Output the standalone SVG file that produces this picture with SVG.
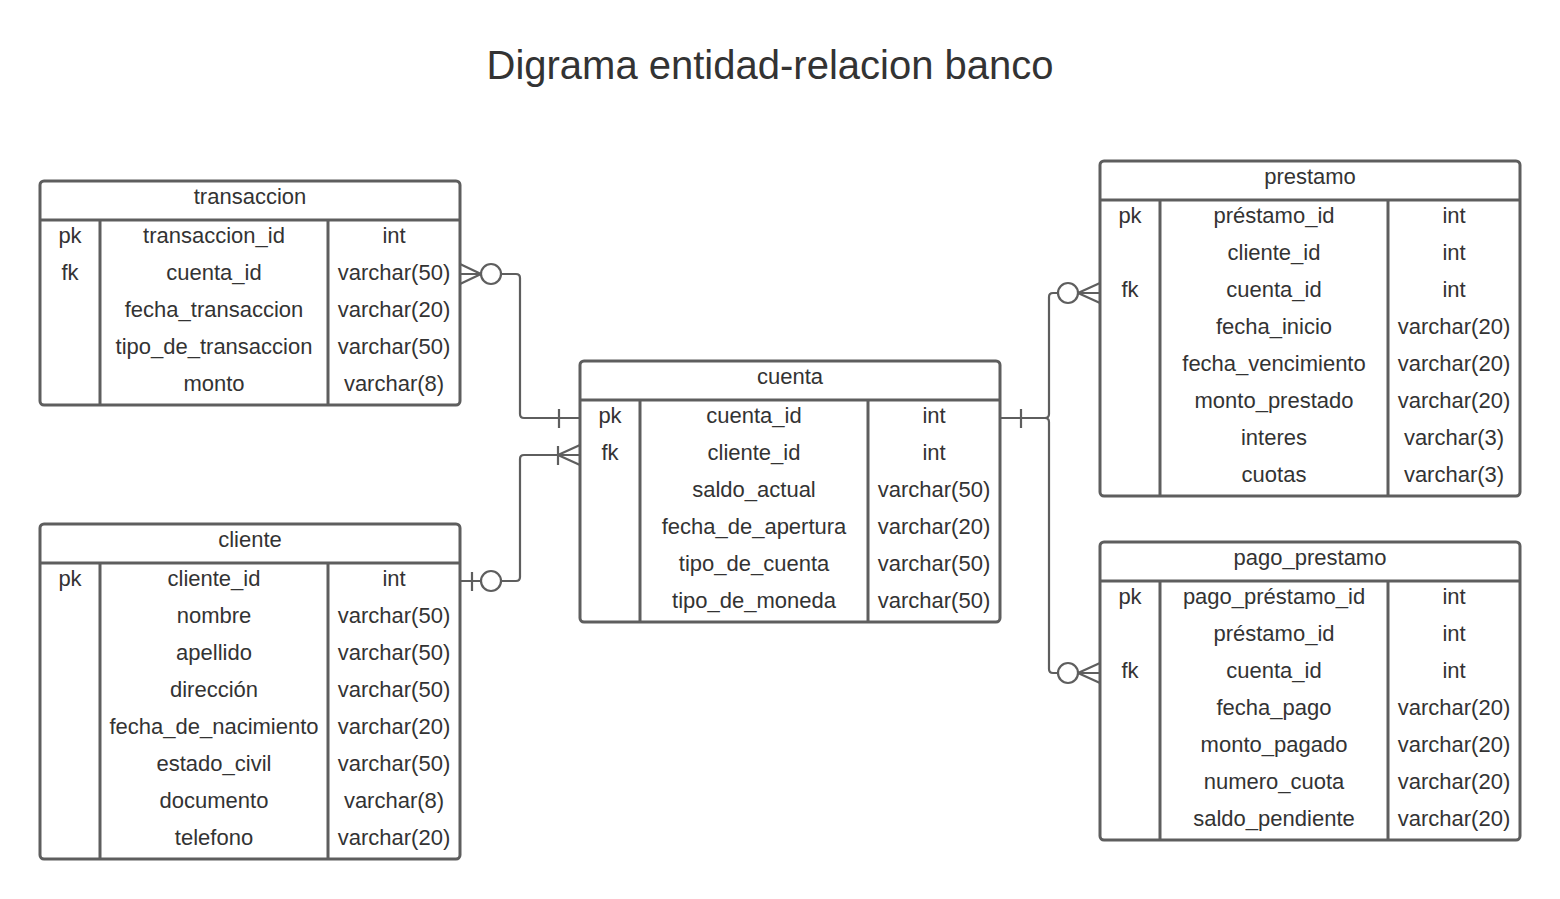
<svg xmlns="http://www.w3.org/2000/svg" width="1560" height="899" viewBox="0 0 1560 899">
  <style>
    .box { fill: #ffffff; stroke: #5e5e5e; stroke-width: 3; }
    .grid { stroke: #5e5e5e; stroke-width: 3; fill: none; }
    .t { font-family: "Liberation Sans", Arial, sans-serif; font-size: 22px; fill: #333333; text-anchor: middle; }
    .title { font-family: "Liberation Sans", Arial, sans-serif; font-size: 40px; fill: #333333; text-anchor: middle; }
    .conn { stroke: #5e5e5e; stroke-width: 2.2; fill: none; }
    .ring { stroke: #5e5e5e; stroke-width: 2.2; fill: #ffffff; }
  </style>
  <rect width="1560" height="899" fill="#ffffff"/>

  <text class="title" x="770" y="79">Digrama entidad-relacion banco</text>

  <!-- relationship lines -->
  <g id="connectors">
    <!-- transaccion (many, optional) to cuenta (one) -->
    <path class="conn" d="M460,274 H481 M481,274 L460,264 M481,274 L460,284 M501,274 H516 Q520,274 520,278 V414 Q520,418 524,418 H580 M559,409 V428"/>
    <circle class="ring" cx="491" cy="274" r="10"/>

    <!-- cliente (one, optional) to cuenta (one or many) -->
    <path class="conn" d="M460,581 H481 M472,572 V591 M501,581 H516 Q520,581 520,577 V459 Q520,455 524,455 H580 M558,455 L580,445 M558,455 L580,465 M558,446 V465"/>
    <circle class="ring" cx="491" cy="581" r="10"/>

    <!-- cuenta (one) to prestamo and pago_prestamo (many, optional) -->
    <path class="conn" d="M1000,418 H1045 M1021,409 V428 M1045,418 Q1049,418 1049,414 V297 Q1049,293 1053,293 H1058 M1045,418 Q1049,418 1049,422 V669 Q1049,673 1053,673 H1058"/>
    <path class="conn" d="M1078,293 H1100 M1078,293 L1100,283 M1078,293 L1100,303"/>
    <circle class="ring" cx="1068" cy="293" r="10"/>
    <path class="conn" d="M1078,673 H1100 M1078,673 L1100,663 M1078,673 L1100,683"/>
    <circle class="ring" cx="1068" cy="673" r="10"/>
  </g>

  <!-- transaccion -->
  <g id="transaccion">
    <rect class="box" x="40" y="181" width="420" height="224" rx="4"/>
    <path class="grid" d="M40,220 H460 M100,220 V405 M328,220 V405"/>
    <text class="t" x="250" y="204">transaccion</text>
    <text class="t" x="70" y="243">pk</text><text class="t" x="214" y="243">transaccion_id</text><text class="t" x="394" y="243">int</text>
    <text class="t" x="70" y="280">fk</text><text class="t" x="214" y="280">cuenta_id</text><text class="t" x="394" y="280">varchar(50)</text>
    <text class="t" x="214" y="317">fecha_transaccion</text><text class="t" x="394" y="317">varchar(20)</text>
    <text class="t" x="214" y="354">tipo_de_transaccion</text><text class="t" x="394" y="354">varchar(50)</text>
    <text class="t" x="214" y="391">monto</text><text class="t" x="394" y="391">varchar(8)</text>
  </g>

  <!-- cliente -->
  <g id="cliente">
    <rect class="box" x="40" y="524" width="420" height="335" rx="4"/>
    <path class="grid" d="M40,563 H460 M100,563 V859 M328,563 V859"/>
    <text class="t" x="250" y="547">cliente</text>
    <text class="t" x="70" y="586">pk</text><text class="t" x="214" y="586">cliente_id</text><text class="t" x="394" y="586">int</text>
    <text class="t" x="214" y="623">nombre</text><text class="t" x="394" y="623">varchar(50)</text>
    <text class="t" x="214" y="660">apellido</text><text class="t" x="394" y="660">varchar(50)</text>
    <text class="t" x="214" y="697">dirección</text><text class="t" x="394" y="697">varchar(50)</text>
    <text class="t" x="214" y="734">fecha_de_nacimiento</text><text class="t" x="394" y="734">varchar(20)</text>
    <text class="t" x="214" y="771">estado_civil</text><text class="t" x="394" y="771">varchar(50)</text>
    <text class="t" x="214" y="808">documento</text><text class="t" x="394" y="808">varchar(8)</text>
    <text class="t" x="214" y="845">telefono</text><text class="t" x="394" y="845">varchar(20)</text>
  </g>

  <!-- cuenta -->
  <g id="cuenta">
    <rect class="box" x="580" y="361" width="420" height="261" rx="4"/>
    <path class="grid" d="M580,400 H1000 M640,400 V622 M868,400 V622"/>
    <text class="t" x="790" y="384">cuenta</text>
    <text class="t" x="610" y="423">pk</text><text class="t" x="754" y="423">cuenta_id</text><text class="t" x="934" y="423">int</text>
    <text class="t" x="610" y="460">fk</text><text class="t" x="754" y="460">cliente_id</text><text class="t" x="934" y="460">int</text>
    <text class="t" x="754" y="497">saldo_actual</text><text class="t" x="934" y="497">varchar(50)</text>
    <text class="t" x="754" y="534">fecha_de_apertura</text><text class="t" x="934" y="534">varchar(20)</text>
    <text class="t" x="754" y="571">tipo_de_cuenta</text><text class="t" x="934" y="571">varchar(50)</text>
    <text class="t" x="754" y="608">tipo_de_moneda</text><text class="t" x="934" y="608">varchar(50)</text>
  </g>

  <!-- prestamo -->
  <g id="prestamo">
    <rect class="box" x="1100" y="161" width="420" height="335" rx="4"/>
    <path class="grid" d="M1100,200 H1520 M1160,200 V496 M1388,200 V496"/>
    <text class="t" x="1310" y="184">prestamo</text>
    <text class="t" x="1130" y="223">pk</text><text class="t" x="1274" y="223">préstamo_id</text><text class="t" x="1454" y="223">int</text>
    <text class="t" x="1274" y="260">cliente_id</text><text class="t" x="1454" y="260">int</text>
    <text class="t" x="1130" y="297">fk</text><text class="t" x="1274" y="297">cuenta_id</text><text class="t" x="1454" y="297">int</text>
    <text class="t" x="1274" y="334">fecha_inicio</text><text class="t" x="1454" y="334">varchar(20)</text>
    <text class="t" x="1274" y="371">fecha_vencimiento</text><text class="t" x="1454" y="371">varchar(20)</text>
    <text class="t" x="1274" y="408">monto_prestado</text><text class="t" x="1454" y="408">varchar(20)</text>
    <text class="t" x="1274" y="445">interes</text><text class="t" x="1454" y="445">varchar(3)</text>
    <text class="t" x="1274" y="482">cuotas</text><text class="t" x="1454" y="482">varchar(3)</text>
  </g>

  <!-- pago_prestamo -->
  <g id="pago_prestamo">
    <rect class="box" x="1100" y="542" width="420" height="298" rx="4"/>
    <path class="grid" d="M1100,581 H1520 M1160,581 V840 M1388,581 V840"/>
    <text class="t" x="1310" y="565">pago_prestamo</text>
    <text class="t" x="1130" y="604">pk</text><text class="t" x="1274" y="604">pago_préstamo_id</text><text class="t" x="1454" y="604">int</text>
    <text class="t" x="1274" y="641">préstamo_id</text><text class="t" x="1454" y="641">int</text>
    <text class="t" x="1130" y="678">fk</text><text class="t" x="1274" y="678">cuenta_id</text><text class="t" x="1454" y="678">int</text>
    <text class="t" x="1274" y="715">fecha_pago</text><text class="t" x="1454" y="715">varchar(20)</text>
    <text class="t" x="1274" y="752">monto_pagado</text><text class="t" x="1454" y="752">varchar(20)</text>
    <text class="t" x="1274" y="789">numero_cuota</text><text class="t" x="1454" y="789">varchar(20)</text>
    <text class="t" x="1274" y="826">saldo_pendiente</text><text class="t" x="1454" y="826">varchar(20)</text>
  </g>
</svg>
